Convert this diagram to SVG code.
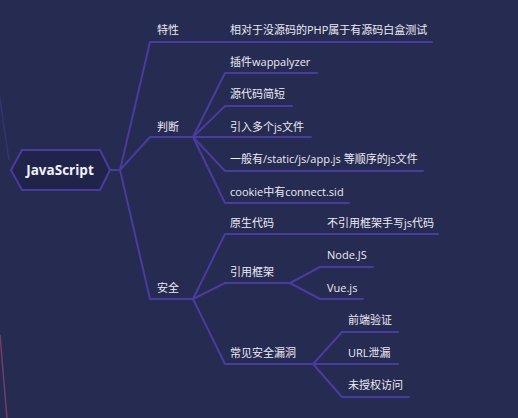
<svg xmlns="http://www.w3.org/2000/svg" width="518" height="418" viewBox="0 0 518 418">
<style>
.bg{fill:#262b51}
.c{fill:none;stroke:#4a3b9e;stroke-width:2;stroke-linejoin:round;stroke-linecap:round}
.t{font-family:"Open Sans","Noto Sans CJK SC",sans-serif;font-size:11px;fill:#eceaf4;dominant-baseline:central}
.root{font-family:"Open Sans","Noto Sans CJK SC",sans-serif;font-size:13.5px;font-weight:bold;fill:#f2f0f8;dominant-baseline:central;text-anchor:middle}
</style>
<rect class="bg" x="0" y="0" width="518" height="418"/>
<g id="edges-outside">
<line x1="-1" y1="92" x2="9" y2="160" stroke="#3a3688" stroke-width="1.5" opacity="0.7"/>
<line x1="0" y1="335" x2="7" y2="418" stroke="#8a3f72" stroke-width="1.5" opacity="0.8"/>
</g>
<g id="connectors">
<path class="c" d="M110 170 L120 170"/>
<path class="c" d="M120 170 L150 42 L432 42"/>
<path class="c" d="M120 170 L150 137 L193 137"/>
<path class="c" d="M193 137 L225 73 L317 73"/>
<path class="c" d="M193 137 L225 106 L292 106"/>
<path class="c" d="M193 137 L311 137"/>
<path class="c" d="M193 137 L225 171 L423 171"/>
<path class="c" d="M193 137 L225 203 L349 203"/>
<path class="c" d="M120 170 L150 299 L193 299"/>
<path class="c" d="M193 299 L225 234 L438 234"/>
<path class="c" d="M193 299 L225 283 L290 283"/>
<path class="c" d="M290 283 L320 267 L373 267"/>
<path class="c" d="M290 283 L320 299 L363 299"/>
<path class="c" d="M193 299 L225 364 L313 364"/>
<path class="c" d="M313 364 L342 332 L398 332"/>
<path class="c" d="M313 364 L398 364"/>
<path class="c" d="M313 364 L342 397 L409 397"/>
</g>
<g id="root">
<polygon points="11,170 22,150 100,150 110,170 100,190 22,190" fill="#20244a" stroke="#4a3b9e" stroke-width="2"/>
<text class="root" x="60" y="170">JavaScript</text>
</g>
<g id="n-texing"><text class="t" x="157" y="29">特性</text></g>
<g id="n-texing-1"><text class="t" x="230" y="29">相对于没源码的PHP属于有源码白盒测试</text></g>
<g id="n-panduan"><text class="t" x="157" y="126">判断</text></g>
<g id="n-pd-1"><text class="t" x="230" y="61">插件wappalyzer</text></g>
<g id="n-pd-2"><text class="t" x="230" y="93">源代码简短</text></g>
<g id="n-pd-3"><text class="t" x="230" y="126">引入多个js文件</text></g>
<g id="n-pd-4"><text class="t" x="230" y="158">一般有/static/js/app.js 等顺序的js文件</text></g>
<g id="n-pd-5"><text class="t" x="230" y="191">cookie中有connect.sid</text></g>
<g id="n-anquan"><text class="t" x="157" y="287">安全</text></g>
<g id="n-aq-1"><text class="t" x="230" y="222">原生代码</text></g>
<g id="n-aq-1-1"><text class="t" x="327" y="222">不引用框架手写js代码</text></g>
<g id="n-aq-2"><text class="t" x="230" y="271">引用框架</text></g>
<g id="n-aq-2-1"><text class="t" x="327" y="254">Node.JS</text></g>
<g id="n-aq-2-2"><text class="t" x="327" y="287">Vue.js</text></g>
<g id="n-aq-3"><text class="t" x="230" y="352">常见安全漏洞</text></g>
<g id="n-aq-3-1"><text class="t" x="348" y="319">前端验证</text></g>
<g id="n-aq-3-2"><text class="t" x="348" y="352">URL泄漏</text></g>
<g id="n-aq-3-3"><text class="t" x="348" y="384">未授权访问</text></g>
</svg>
